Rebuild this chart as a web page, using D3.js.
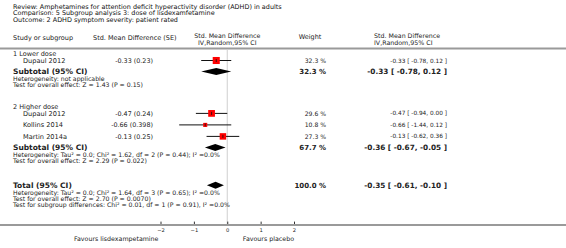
<!DOCTYPE html>
<html>
<head>
<meta charset="utf-8">
<script src="https://cdn.jsdelivr.net/npm/d3@7"></script>
<style>
  body { margin: 0; background: #fff; }
  text { font-family: "DejaVu Sans", Verdana, sans-serif; fill: #222; }
</style>
</head>
<body>
<script>
// Width and height
var w = 566;
var h = 248;

// Header texts
var titleLines = [
  "Review:  Amphetamines for attention deficit hyperactivity disorder (ADHD) in adults",
  "Comparison:  5 Subgroup analysis 3: dose of lisdexamfetamine",
  "Outcome:  2 ADHD symptom severity: patient rated"
];

// Study level data
var groups = ["1 Lower dose", "2 Higher dose"];
var studyNames = ["Dupaul 2012", "Dupaul 2012", "Kollins 2014", "Martin 2014a"];
var studyGroup = [0, 1, 1, 1];
var studySmd = [-0.33, -0.47, -0.66, -0.13];
var studySe = ["0.23", "0.24", "0.398", "0.25"];
var studyLo = [-0.78, -0.94, -1.44, -0.62];
var studyHi = [0.12, 0.00, 0.12, 0.36];
var studyWeight = [32.3, 29.6, 10.8, 27.3];

// Subtotals
var subEst = [-0.33, -0.36];
var subLo = [-0.78, -0.67];
var subHi = [0.12, -0.05];
var subWeight = [32.3, 67.7];
var subNotes = [
  ["Heterogeneity: not applicable",
   "Test for overall effect: Z = 1.43 (P = 0.15)"],
  ["Heterogeneity: Tau\u00b2 = 0.0; Chi\u00b2 = 1.62, df = 2 (P = 0.44); I\u00b2 =0.0%",
   "Test for overall effect: Z = 2.29 (P = 0.022)"]
];

// Total
var totalEst = -0.35, totalLo = -0.61, totalHi = -0.10, totalWeight = 100.0;
var totalNotes = [
  "Heterogeneity: Tau\u00b2 = 0.0; Chi\u00b2 = 1.64, df = 3 (P = 0.65); I\u00b2 =0.0%",
  "Test for overall effect: Z = 2.70 (P = 0.0070)",
  "Test for subgroup differences: Chi\u00b2 = 0.01, df = 1 (P = 0.91), I\u00b2 =0.0%"
];

// Axis
var ticks = [-2, -1, 0, 1, 2];
var favoursLeft = "Favours lisdexampetamine";
var favoursRight = "Favours placebo";

function fmt(v) { return v.toFixed(2); }
function ciText(e, l, u) { return fmt(e) + " [ " + fmt(l) + ", " + fmt(u) + " ]"; }

// Build rows with a running y position
var rows = [];
var y = 54;
groups.forEach(function(g, gi) {
  if (gi > 0) y += 22;
  rows.push({type: "group", text: g, y: y});
  var first = true;
  studyNames.forEach(function(n, i) {
    if (studyGroup[i] !== gi) return;
    y += first ? 6.5 : 11.5;
    first = false;
    rows.push({type: "study", i: i, y: y});
  });
  y += 11;
  rows.push({type: "sub", gi: gi, y: y});
  y += 7.3;
  rows.push({type: "note", text: subNotes[gi][0], y: y});
  y += 6.1;
  rows.push({type: "note", text: subNotes[gi][1], y: y});
});
y += 24.5;
rows.push({type: "total", y: y});
totalNotes.forEach(function(t, k) {
  y += k === 0 ? 7.2 : 6.3;
  rows.push({type: "note", text: t, y: y});
});
var axisY = y + 20;

// Scale
var xScale = d3.scaleLinear().domain([-2, 2]).range([160.5, 294]);

// Columns
var colStudy = 13, colName = 23, colSe = 153, colWeight = 326, colCi = 447;

var svg = d3.select("body")
  .append("svg")
  .attr("width", w)
  .attr("height", h);

// Title lines
svg.selectAll("text.title")
  .data(titleLines)
  .enter()
  .append("text")
  .attr("class", "title")
  .attr("x", 13)
  .attr("y", function(d, i) { return 6.5 + i * 6.6; })
  .attr("dy", "0.35em")
  .attr("font-size", 6.45)
  .style("fill", "#111")
  .text(function(d) { return d; });

// Column headers
function label(x, yy, t, size, anchor, weight) {
  return svg.append("text")
    .attr("x", x).attr("y", yy).attr("dy", "0.35em")
    .attr("font-size", size)
    .attr("text-anchor", anchor || "start")
    .attr("font-weight", weight || "normal")
    .text(t);
}
label(colStudy, 37.5, "Study or subgroup", 6.5);
label(93, 37.5, "Std. Mean Difference (SE)", 6.5);
label(xScale(0), 35.5, "Std. Mean Difference", 6.3, "middle");
label(xScale(0), 42.3, "IV,Random,95% CI", 6.3, "middle");
label(310, 37, "Weight", 6.5, "middle");
label(374, 35.5, "Std. Mean Difference", 6.3);
label(374, 42.3, "IV,Random,95% CI", 6.3);

// Header rule
svg.append("line")
  .attr("x1", 0).attr("x2", w)
  .attr("y1", 48.5).attr("y2", 48.5)
  .attr("stroke", "#9a9a9a").attr("stroke-width", 2);

// Zero line
svg.append("line")
  .attr("x1", xScale(0)).attr("x2", xScale(0))
  .attr("y1", 49.5).attr("y2", axisY)
  .attr("stroke", "#cfcfcf").attr("stroke-width", 1);

// Rows
rows.forEach(function(r) {
  if (r.type === "group") {
    label(colStudy, r.y, r.text, 6.5);
  } else if (r.type === "note") {
    label(colStudy, r.y, r.text, 6.2);
  } else if (r.type === "study") {
    var i = r.i;
    label(colName, r.y, studyNames[i], 6.6);
    label(colSe, r.y, fmt(studySmd[i]) + " (" + studySe[i] + ")", 6.4, "end");
    label(colWeight, r.y, studyWeight[i].toFixed(1) + " %", 6.1, "end");
    label(colCi, r.y, ciText(studySmd[i], studyLo[i], studyHi[i]), 5.8, "end");
  } else if (r.type === "sub") {
    label(colStudy, r.y, "Subtotal (95% CI)", 7.5, "start", "bold");
    label(colWeight, r.y, subWeight[r.gi].toFixed(1) + " %", 7, "end", "bold");
    label(colCi, r.y, ciText(subEst[r.gi], subLo[r.gi], subHi[r.gi]), 7.3, "end", "bold");
  } else if (r.type === "total") {
    label(colStudy, r.y, "Total (95% CI)", 7.5, "start", "bold");
    label(colWeight, r.y, totalWeight.toFixed(1) + " %", 7, "end", "bold");
    label(colCi, r.y, ciText(totalEst, totalLo, totalHi), 7.3, "end", "bold");
  }
});

// Study CIs and squares
var studyRows = rows.filter(function(r) { return r.type === "study"; });
svg.selectAll("line.ci")
  .data(studyRows)
  .enter()
  .append("line")
  .attr("class", "ci")
  .attr("x1", function(d) { return xScale(studyLo[d.i]); })
  .attr("x2", function(d) { return xScale(studyHi[d.i]); })
  .attr("y1", function(d) { return d.y; })
  .attr("y2", function(d) { return d.y; })
  .attr("stroke", "#111").attr("stroke-width", 1);

svg.selectAll("rect.box")
  .data(studyRows)
  .enter()
  .append("rect")
  .attr("class", "box")
  .attr("x", function(d) { return xScale(studySmd[d.i]) - 0.62 * Math.sqrt(studyWeight[d.i]); })
  .attr("y", function(d) { return d.y - 0.62 * Math.sqrt(studyWeight[d.i]); })
  .attr("width", function(d) { return 1.24 * Math.sqrt(studyWeight[d.i]); })
  .attr("height", function(d) { return 1.24 * Math.sqrt(studyWeight[d.i]); })
  .attr("fill", "#f00");

svg.selectAll("line.pt")
  .data(studyRows)
  .enter()
  .append("line")
  .attr("class", "pt")
  .attr("x1", function(d) { return xScale(studySmd[d.i]); })
  .attr("x2", function(d) { return xScale(studySmd[d.i]); })
  .attr("y1", function(d) { return d.y - 1.5; })
  .attr("y2", function(d) { return d.y + 1.5; })
  .attr("stroke", "#111").attr("stroke-width", 0.8);

// Diamonds
var diamonds = rows.filter(function(r) { return r.type === "sub" || r.type === "total"; })
  .map(function(r) {
    if (r.type === "sub") return {y: r.y, e: subEst[r.gi], l: subLo[r.gi], u: subHi[r.gi]};
    return {y: r.y, e: totalEst, l: totalLo, u: totalHi};
  });
svg.selectAll("path.diamond")
  .data(diamonds)
  .enter()
  .append("path")
  .attr("class", "diamond")
  .attr("d", function(d) {
    return "M" + xScale(d.l) + "," + d.y +
      "L" + xScale(d.e) + "," + (d.y - 3.5) +
      "L" + xScale(d.u) + "," + d.y +
      "L" + xScale(d.e) + "," + (d.y + 3.5) + "Z";
  })
  .attr("fill", "#000");

// Axis
var xAxis = d3.axisBottom(xScale).tickValues(ticks).tickSize(-3).tickFormat(d3.format("d"));
var gAxis = svg.append("g")
  .attr("transform", "translate(0," + axisY + ")")
  .call(xAxis);
gAxis.select(".domain").remove();
gAxis.selectAll(".tick line").attr("stroke", "#333").attr("transform", "translate(0,-0.5)");
gAxis.selectAll(".tick text")
  .attr("y", 3)
  .attr("font-size", 5.2)
  .style("font-family", "DejaVu Sans, sans-serif")
  .style("fill", "#222");

svg.append("line")
  .attr("x1", 0).attr("x2", w)
  .attr("y1", axisY).attr("y2", axisY)
  .attr("stroke", "#9a9a9a").attr("stroke-width", 2);

label(xScale(-2) - 2, axisY + 13.5, favoursLeft, 6.3, "end");
label(xScale(2), axisY + 13.5, favoursRight, 6.3, "end");
</script>
</body>
</html>
